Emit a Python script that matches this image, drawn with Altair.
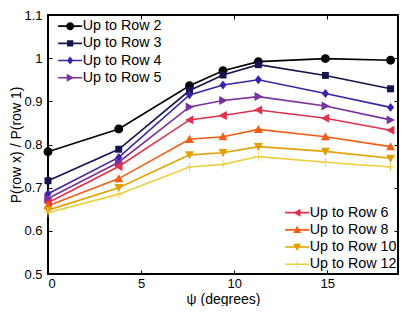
import altair as alt
import pandas as pd

# ---------------- data ----------------
psi = [0, 3.8, 7.6, 9.4, 11.3, 14.9, 18.4]

row2 = [0.783, 0.836, 0.936, 0.971, 0.992, 0.999, 0.995]
row3 = [0.716, 0.789, 0.925, 0.961, 0.985, 0.960, 0.929]
row4 = [0.686, 0.770, 0.915, 0.938, 0.950, 0.918, 0.886]
row5 = [0.675, 0.759, 0.887, 0.902, 0.911, 0.889, 0.857]
row6 = [0.665, 0.749, 0.857, 0.867, 0.880, 0.861, 0.833]
row8 = [0.658, 0.721, 0.812, 0.818, 0.835, 0.818, 0.795]
row10 = [0.648, 0.700, 0.776, 0.781, 0.795, 0.784, 0.768]
row12 = [0.642, 0.685, 0.748, 0.754, 0.772, 0.759, 0.748]

series_a = ["Up to Row 2", "Up to Row 3", "Up to Row 4", "Up to Row 5"]
series_b = ["Up to Row 6", "Up to Row 8", "Up to Row 10", "Up to Row 12"]
values_a = [row2, row3, row4, row5]
values_b = [row6, row8, row10, row12]

colors_a = ["#000000", "#14144f", "#3c22a6", "#7b30a0"]
colors_b = ["#e0304a", "#f55c16", "#e3a100", "#ecce3e"]

x_ticks = [0, 5, 10, 15]
y_ticks = [0.5, 0.6, 0.7, 0.8, 0.9, 1.0, 1.1]

# ---------------- marker shapes (unit paths) ----------------
m_circle = "M-1,0A1,1,0,1,1,1,0A1,1,0,1,1,-1,0Z"
m_square = "M-0.78,-0.78H0.78V0.78H-0.78Z"
m_diamond = "M0,-1L0.8,0L0,1L-0.8,0Z"
m_tri_right = "M-0.85,-1L1,0L-0.85,1Z"
m_tri_left = "M0.85,-1L0.85,1L-1,0Z"
m_tri_up = "M0,-1L1,0.8L-1,0.8Z"
m_tri_down = "M-1,-0.8L1,-0.8L0,1Z"
m_plus = "M-1,-0.09H-0.09V-1H0.09V-0.09H1V0.09H0.09V1H-0.09V0.09H-1Z"

markers_a = [m_circle, m_square, m_diamond, m_tri_right]
markers_b = [m_tri_left, m_tri_up, m_tri_down, m_plus]

# legend symbols: a short line segment plus the marker
seg = "M-3,-0.2H3V0.2H-3Z"
legend_a = [seg + m for m in markers_a]
legend_b = [seg + m for m in markers_b]


def long_df(names, vals):
    rows = []
    for n, v in zip(names, vals):
        for x, y in zip(psi, v):
            rows.append({"series": n, "psi": x, "val": y})
    return pd.DataFrame(rows)


df_a = long_df(series_a, values_a)
df_b = long_df(series_b, values_b)

FONT = "Liberation Sans"
W, H = 350, 259
xs = alt.Scale(domain=[0, 18.8], nice=False, zero=False)
ys = alt.Scale(domain=[0.5, 1.1], nice=False, zero=False)

# ---------------- axes ----------------
x_lab = alt.Axis(orient="bottom", values=x_ticks, ticks=False, tickSize=0, domain=False,
                 grid=False, labelPadding=3, labelFontSize=13, labelFont=FONT,
                 labelColor="black", title="ψ (degrees)", titleFont=FONT,
                 titleFontSize=14, titleFontWeight="normal", titleColor="black",
                 titleX=W / 2, titleY=25, titleBaseline="middle", titleAlign="center")
x_tick_b = alt.Axis(orient="bottom", values=x_ticks, labels=False, domain=False, grid=False,
                    ticks=True, tickSize=4, offset=-4, tickColor="black", title=None)
x_tick_t = alt.Axis(orient="top", values=x_ticks, labels=False, domain=False, grid=False,
                    ticks=True, tickSize=4, offset=-4, tickColor="black", title=None)

y_lab = alt.Axis(orient="left", values=y_ticks, format="~g", ticks=False, tickSize=0,
                 domain=False, grid=False, labelPadding=6, labelFontSize=13,
                 labelFont=FONT, labelColor="black", title="P(row x) / P(row 1)",
                 titleFont=FONT, titleFontSize=14, titleFontWeight="normal",
                 titleColor="black", titleX=-32, titleY=H / 2, titleAngle=270,
                 titleBaseline="middle", titleAlign="center")
y_tick_l = alt.Axis(orient="left", values=y_ticks, labels=False, domain=False, grid=False,
                    ticks=True, tickSize=4, offset=-4, tickColor="black", title=None)
y_tick_r = alt.Axis(orient="right", values=y_ticks, labels=False, domain=False, grid=False,
                    ticks=True, tickSize=4, offset=-4, tickColor="black", title=None)


def legend(lx, ly):
    return alt.Legend(orient="none", legendX=lx, legendY=ly, title=None, symbolSize=64,
                      symbolOffset=8, labelOffset=5.5, rowPadding=2.2, padding=0,
                      labelFont=FONT, labelFontSize=14.3, labelColor="black",
                      symbolStrokeWidth=0)


def group(df, names, colors, markers, leg_shapes, axes, leg):
    ax_line, ax_pts, ax_leg = axes
    cscale = alt.Scale(domain=names, range=colors)
    line = alt.Chart(df).mark_line(strokeWidth=1.6).encode(
        x=alt.X("psi:Q", scale=xs, axis=ax_line[0]),
        y=alt.Y("val:Q", scale=ys, axis=ax_line[1]),
        color=alt.Color("series:N", scale=cscale, legend=None),
        detail="series:N",
    )
    pts = alt.Chart(df).mark_point(filled=True, size=80, opacity=1).encode(
        x=alt.X("psi:Q", scale=xs, axis=ax_pts[0]),
        y=alt.Y("val:Q", scale=ys, axis=ax_pts[1]),
        color=alt.Color("series:N", scale=cscale, legend=None),
        shape=alt.Shape("series:N", scale=alt.Scale(domain=names, range=markers), legend=None),
    )
    lg = alt.Chart(df).transform_filter("false").mark_point(filled=True, opacity=1).encode(
        x=alt.X("psi:Q", scale=xs, axis=ax_leg[0]),
        y=alt.Y("val:Q", scale=ys, axis=ax_leg[1]),
        color=alt.Color("series:N", scale=cscale, legend=leg),
        shape=alt.Shape("series:N", scale=alt.Scale(domain=names, range=leg_shapes), legend=leg),
    )
    return [line, pts, lg]


layers_a = group(df_a, series_a, colors_a, markers_a, legend_a,
                 [(x_lab, y_lab), (x_tick_b, y_tick_l), (x_tick_t, y_tick_r)], legend(7, 4))
layers_b = group(df_b, series_b, colors_b, markers_b, legend_b,
                 [(None, None), (None, None), (None, None)], legend(234, 190.5))

chart = alt.layer(*layers_a, *layers_b).resolve_scale(
    color="independent", shape="independent"
).resolve_axis(x="independent", y="independent").properties(
    width=W, height=H,
    autosize=alt.AutoSizeParams(type="none"),
    padding={"left": 40, "top": 7, "right": 1, "bottom": 32},
    background="white",
).configure_view(stroke="black", strokeWidth=2)

chart.save("out.html", embed_options={"renderer": "svg", "actions": False})
